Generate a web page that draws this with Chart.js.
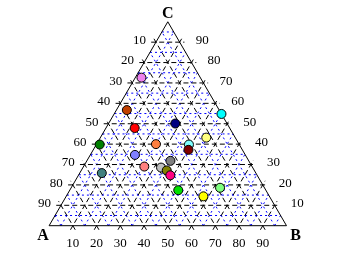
<!DOCTYPE html>
<html><head><meta charset="utf-8">
<script src="https://cdn.jsdelivr.net/npm/chart.js"></script>
<style>html,body{margin:0;padding:0;background:#fff;}#wrap{width:355px;height:258px;position:relative;}</style>
</head><body><div id="wrap"><canvas id="c"></canvas></div>
<script>
// Ternary data (percent)
const seriesA = [24.8, 38.9, 40.0, 21.8, 0.0, 12.2, 58.8, 35.0, 21.2, 22.7, 46.5, 45.4, 33.0, 38.6, 36.9, 36.6, 64.9, 36.9, 18.7, 27.8];
const seriesB = [2.6, 4.4, 12.1, 28.1, 45.2, 44.6, 1.4, 25.0, 39.0, 40.1, 18.8, 25.6, 35.2, 32.9, 36.0, 38.7, 9.3, 45.7, 62.7, 57.8];
const seriesC = [72.6, 56.7, 47.9, 50.1, 54.8, 43.2, 39.8, 40.0, 39.8, 37.2, 34.7, 29.0, 31.8, 28.5, 27.1, 24.7, 25.8, 17.4, 18.6, 14.4];
const pointColors = ['#ee82ee','#c04000','#ff0000','#000080','#00ffff','#ffff80','#008000','#ff8040','#80ffff','#800000','#8080ff','#ff8080','#808080','#c0c0c0','#808000','#ff0080','#408080','#00e000','#80ff80','#ffff00'];
const tickLabels = [10, 20, 30, 40, 50, 60, 70, 80, 90];
const minorTicks = [5, 15, 25, 35, 45, 55, 65, 75, 85, 95];
const vertexLabels = ['A', 'B', 'C'];

const H = Math.sqrt(3) / 2;
function toXY(a, b, c) { const s = a + b + c; b /= s; c /= s; return { x: b + c / 2, y: c * H }; }

function gridLines(t, ext) {
  // returns three segments for level t (fraction): C=t, B=t, A=t
  const segs = [];
  // C = t horizontal
  segs.push([{ x: t / 2 - ext, y: t * H }, { x: 1 - t / 2 + ext, y: t * H }]);
  // B = t
  const p1 = { x: t, y: 0 }, p2 = { x: t + (1 - t) / 2, y: (1 - t) * H };
  segs.push([{ x: p1.x - 0.5 * ext, y: p1.y - H * ext }, { x: p2.x + 0.5 * ext, y: p2.y + H * ext }]);
  // A = t
  const q1 = { x: 1 - t, y: 0 }, q2 = { x: (1 - t) / 2, y: (1 - t) * H };
  segs.push([{ x: q1.x + 0.5 * ext, y: q1.y - H * ext }, { x: q2.x - 0.5 * ext, y: q2.y + H * ext }]);
  return segs;
}

const datasets = [];
// points
datasets.push({
  data: seriesA.map((a, i) => toXY(a, seriesB[i], seriesC[i])),
  pointRadius: 4.5, pointHoverRadius: 4.5,
  pointBackgroundColor: pointColors, pointBorderColor: '#000', pointBorderWidth: 1,
  showLine: false, order: 0
});
// triangle border
datasets.push({
  data: [toXY(100, 0, 0), toXY(0, 100, 0), toXY(0, 0, 100), toXY(100, 0, 0)],
  showLine: true, borderColor: '#000', borderWidth: 1, pointRadius: 0, order: 1
});
// black dashed grid
tickLabels.forEach(t => {
  gridLines(t / 100, 0.02).forEach(seg => datasets.push({
    data: seg, showLine: true, borderColor: '#000', borderWidth: 1, borderDash: [5, 3],
    pointRadius: 0, order: 2
  }));
});
// blue dotted grid
minorTicks.forEach(t => {
  gridLines(t / 100, 0).forEach(seg => datasets.push({
    data: seg, showLine: true, borderColor: '#0000ff', borderWidth: 1, borderDash: [2, 3],
    pointRadius: 0, order: 3
  }));
});

const labelPlugin = {
  id: 'ternLabels',
  afterDatasetsDraw(chart) {
    const ctx = chart.ctx, xs = chart.scales.x, ys = chart.scales.y;
    const P = p => ({ x: xs.getPixelForValue(p.x), y: ys.getPixelForValue(p.y) });
    ctx.save();
    ctx.fillStyle = '#000';
    ctx.font = '13px "Liberation Serif", "DejaVu Serif", serif';
    ctx.textBaseline = 'middle';
    tickLabels.forEach(t => {
      // left edge: A = t
      const l = P(toXY(t, 0, 100 - t));
      ctx.textAlign = 'right';
      ctx.fillText(String(t), l.x - 10, l.y - 1.5);
      // right edge: C = t
      const r = P(toXY(0, 100 - t, t));
      ctx.textAlign = 'left';
      ctx.fillText(String(t), r.x + 16, r.y - 1.5);
      // bottom: B = t
      const b = P(toXY(100 - t, t, 0));
      ctx.textAlign = 'center';
      ctx.fillText(String(t), b.x, b.y + 18);
    });
    ctx.font = 'bold 16px "Liberation Serif", "DejaVu Serif", serif';
    ctx.textAlign = 'center';
    const va = P(toXY(100, 0, 0)), vb = P(toXY(0, 100, 0)), vc = P(toXY(0, 0, 100));
    ctx.fillText(vertexLabels[0], va.x - 6, va.y + 10);
    ctx.fillText(vertexLabels[1], vb.x + 9, vb.y + 10);
    ctx.fillText(vertexLabels[2], vc.x, vc.y - 8);
    ctx.restore();
  }
};

new Chart(document.getElementById('c'), {
  type: 'scatter',
  data: { datasets },
  options: {
    responsive: true, maintainAspectRatio: false, animation: false,
    layout: { padding: 0 },
    plugins: { legend: { display: false }, tooltip: { enabled: false } },
    scales: {
      x: { type: 'linear', display: false, min: -45 / 245, max: 310 / 245 },
      y: { type: 'linear', display: false, min: -28 / 213 * H, max: 230 / 213 * H }
    },
    elements: { line: { tension: 0 } }
  },
  plugins: [labelPlugin]
});
</script>
</body></html>
